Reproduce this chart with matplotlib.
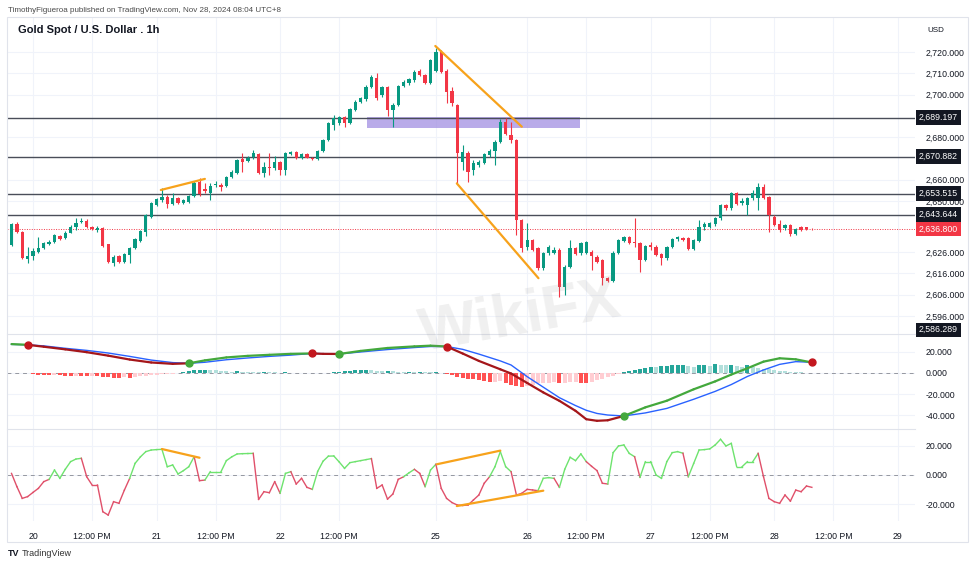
import matplotlib.pyplot as plt
import numpy as np
from matplotlib.transforms import blended_transform_factory

# ---- price candles (1h bars, Nov 19 20:00 -> Nov 28 08:00, UTC+8) ----
opens = [2629.4, 2639.3, 2635.4, 2622.7, 2624.2, 2626.3, 2628.1, 2629.9, 2631.0, 2633.8,
         2632.5, 2635.2, 2637.7, 2640.2, 2640.8, 2638.0, 2636.4, 2637.2, 2629.7, 2621.1,
         2624.2, 2621.6, 2624.7, 2627.8, 2631.4, 2635.7, 2642.7, 2648.2, 2650.5, 2652.1,
         2648.6, 2651.3, 2649.3, 2649.7, 2652.4, 2658.8, 2655.5, 2653.7, 2657.4, 2657.6,
         2657.3, 2661.2, 2663.3, 2669.6, 2668.8, 2670.6, 2672.0, 2663.0, 2666.2, 2665.4,
         2668.5, 2664.6, 2672.0, 2672.9, 2670.1, 2672.0, 2670.4, 2669.6, 2673.7, 2678.7,
         2685.7, 2686.5, 2689.3, 2686.8, 2692.8, 2696.7, 2697.8, 2703.7, 2707.6, 2699.8,
         2703.4, 2692.8, 2695.1, 2704.0, 2705.3, 2706.9, 2711.2, 2709.2, 2705.6, 2711.2,
         2720.2, 2711.2, 2701.7, 2695.1, 2668.5, 2672.7, 2664.6, 2666.9, 2668.0, 2671.6,
         2673.7, 2677.9, 2687.3, 2681.0, 2678.7, 2641.1, 2628.6, 2631.7, 2627.8, 2618.4,
         2625.5, 2625.8, 2627.1, 2609.8, 2619.2, 2627.8, 2625.5, 2625.8, 2626.3, 2623.9,
         2622.4, 2613.7, 2612.6, 2625.8, 2631.4, 2633.0, 2630.9, 2630.2, 2622.4, 2629.4,
         2628.6, 2625.2, 2623.1, 2628.3, 2632.1, 2632.7, 2632.5, 2627.4, 2631.4, 2637.7,
         2638.0, 2639.1, 2641.9, 2648.2, 2646.6, 2653.6, 2649.0, 2648.2, 2651.3, 2651.3,
         2656.8, 2651.8, 2642.7, 2639.2, 2637.2, 2638.8, 2634.6, 2637.7, 2637.6, 2637.0]
highs = [2639.6, 2640.0, 2635.8, 2628.6, 2627.8, 2633.3, 2630.8, 2631.6, 2634.6, 2634.3,
         2635.8, 2638.6, 2641.9, 2641.9, 2641.5, 2638.4, 2638.3, 2637.8, 2630.0, 2624.7,
         2624.7, 2625.7, 2628.6, 2632.6, 2636.6, 2644.1, 2649.6, 2651.5, 2656.0, 2652.7,
         2654.0, 2651.9, 2651.0, 2653.0, 2659.2, 2660.7, 2658.3, 2658.3, 2659.4, 2658.3,
         2662.0, 2664.4, 2669.9, 2672.4, 2671.0, 2674.0, 2672.5, 2668.5, 2672.4, 2671.2,
         2669.0, 2673.2, 2673.5, 2673.4, 2672.6, 2672.5, 2670.9, 2674.2, 2679.3, 2687.3,
         2690.4, 2690.0, 2690.0, 2693.8, 2697.5, 2699.0, 2704.3, 2709.2, 2710.3, 2704.0,
         2704.0, 2695.9, 2704.6, 2706.9, 2707.8, 2711.5, 2711.8, 2709.8, 2716.9, 2722.0,
         2721.0, 2711.8, 2703.7, 2695.6, 2676.3, 2673.3, 2669.3, 2669.2, 2672.7, 2674.3,
         2678.5, 2688.5, 2688.9, 2687.3, 2679.3, 2641.4, 2639.6, 2632.3, 2628.4, 2626.1,
         2629.2, 2628.4, 2627.8, 2619.8, 2631.7, 2628.4, 2630.8, 2631.2, 2626.9, 2624.5,
         2623.0, 2614.3, 2626.4, 2632.3, 2633.6, 2633.6, 2641.9, 2630.8, 2629.5, 2630.9,
         2629.2, 2625.8, 2628.9, 2632.7, 2633.6, 2633.3, 2633.1, 2632.3, 2641.1, 2640.2,
         2640.4, 2642.5, 2648.8, 2648.8, 2654.2, 2654.2, 2651.3, 2651.9, 2655.2, 2658.7,
         2657.9, 2652.4, 2643.3, 2641.1, 2639.4, 2639.4, 2637.5, 2638.3, 2637.8, 2637.3]
lows = [2628.9, 2635.0, 2622.7, 2621.1, 2622.3, 2625.8, 2627.5, 2629.5, 2630.5, 2631.5,
        2632.0, 2634.8, 2636.4, 2639.6, 2637.2, 2636.2, 2635.7, 2628.3, 2620.8, 2619.3,
        2621.0, 2621.0, 2621.1, 2627.3, 2630.9, 2633.5, 2642.0, 2647.6, 2649.7, 2646.6,
        2648.2, 2648.4, 2648.8, 2649.2, 2651.9, 2652.4, 2653.7, 2650.5, 2656.8, 2654.9,
        2656.8, 2660.7, 2662.8, 2663.8, 2668.3, 2669.6, 2662.8, 2661.5, 2662.3, 2664.6,
        2662.3, 2662.3, 2671.5, 2669.6, 2669.6, 2670.0, 2669.2, 2669.2, 2673.2, 2678.2,
        2683.4, 2685.7, 2684.9, 2686.2, 2692.2, 2696.0, 2697.2, 2703.0, 2697.5, 2699.0,
        2690.0, 2684.9, 2694.4, 2703.4, 2704.6, 2706.1, 2708.6, 2705.0, 2705.0, 2710.5,
        2710.0, 2695.9, 2694.6, 2658.3, 2664.6, 2659.1, 2662.3, 2666.2, 2667.4, 2670.9,
        2667.0, 2677.3, 2680.9, 2677.1, 2634.1, 2626.3, 2627.1, 2626.5, 2617.7, 2617.7,
        2624.9, 2625.2, 2605.1, 2606.0, 2618.4, 2624.6, 2624.9, 2625.2, 2617.7, 2620.9,
        2610.6, 2611.9, 2612.0, 2625.2, 2630.8, 2629.9, 2628.6, 2616.9, 2621.8, 2627.0,
        2624.2, 2620.0, 2622.5, 2627.8, 2631.4, 2631.3, 2626.8, 2626.8, 2630.8, 2636.2,
        2637.4, 2638.5, 2641.3, 2646.0, 2646.0, 2648.0, 2648.2, 2643.5, 2650.5, 2645.8,
        2650.8, 2635.7, 2638.2, 2635.7, 2636.6, 2633.7, 2634.0, 2635.8, 2636.5, 2636.5]
closes = [2639.1, 2635.5, 2623.1, 2624.2, 2626.6, 2628.1, 2630.2, 2631.0, 2634.1, 2632.0,
          2635.2, 2638.0, 2639.9, 2640.8, 2637.7, 2636.7, 2637.2, 2628.9, 2621.2, 2623.9,
          2621.6, 2625.2, 2628.1, 2632.0, 2636.1, 2643.5, 2649.0, 2650.8, 2652.1, 2648.5,
          2651.3, 2649.0, 2650.5, 2652.4, 2658.7, 2653.3, 2654.9, 2657.1, 2658.0, 2656.8,
          2661.5, 2663.8, 2669.3, 2668.5, 2670.4, 2672.4, 2663.3, 2666.2, 2665.4, 2668.5,
          2664.6, 2672.4, 2672.9, 2670.1, 2672.1, 2670.4, 2669.6, 2673.7, 2678.7, 2686.5,
          2688.9, 2689.3, 2686.8, 2693.1, 2696.7, 2698.2, 2703.7, 2708.1, 2698.2, 2703.4,
          2692.8, 2695.1, 2704.0, 2706.1, 2707.2, 2710.8, 2709.2, 2705.6, 2716.2, 2720.2,
          2710.8, 2701.4, 2695.9, 2672.4, 2673.2, 2663.8, 2667.7, 2668.5, 2672.1, 2673.7,
          2677.9, 2687.3, 2681.5, 2678.7, 2641.1, 2627.8, 2631.7, 2627.1, 2618.4, 2625.5,
          2628.6, 2627.1, 2609.8, 2619.2, 2627.8, 2625.2, 2630.2, 2630.6, 2624.2, 2621.6,
          2613.7, 2612.6, 2625.8, 2631.7, 2633.0, 2630.5, 2630.2, 2622.4, 2628.9, 2628.3,
          2624.7, 2623.1, 2628.3, 2632.1, 2633.0, 2631.8, 2627.4, 2631.7, 2637.7, 2639.2,
          2639.6, 2641.9, 2648.2, 2646.6, 2653.6, 2648.5, 2650.2, 2651.3, 2653.6, 2656.8,
          2651.3, 2643.5, 2638.8, 2636.4, 2638.8, 2634.6, 2636.9, 2636.4, 2637.0, 2636.8]

levels = [2689.197, 2670.882, 2653.515, 2643.644]
last_price = 2636.8
low_label = 2586.289
price_ticks = [2720, 2710, 2700, 2680, 2660, 2650, 2626, 2616, 2606, 2596]

# drawings (bar index, price)
zone_x = [66.1, 105.9]
zone_y = [2684.4, 2689.3]
trend_lines = [[27.8, 2655.2, 36.0, 2660.4],
               [78.9, 2722.8, 95.0, 2684.9],
               [82.9, 2658.3, 98.1, 2613.8]]

# time axis
time_ticks = [4, 15, 27, 38, 50, 61, 79, 96, 107, 119, 130, 142, 153, 165]
time_labels = ['20', '12:00 PM', '21', '12:00 PM', '22', '12:00 PM', '25', '26',
               '12:00 PM', '27', '12:00 PM', '28', '12:00 PM', '29']

# ---- MACD pane ----
macd_idx = [0, 3, 6, 10, 14, 18, 22, 26, 30, 33, 36, 40, 44, 48, 52, 56, 58, 61, 65, 70,
            75, 78, 81, 84, 87, 91, 93, 96, 99, 102, 105, 107, 109, 111, 114, 118, 122,
            127, 131, 134, 137, 140, 143, 146, 149]
macd_line = [27.5, 26.8, 25.0, 22.5, 19.8, 16.5, 12.8, 10.0, 8.7, 9.2, 12.0, 14.8, 16.3,
             17.3, 18.2, 18.6, 18.2, 18.1, 21.0, 23.8, 25.3, 26.0, 25.2, 18.5, 11.5, 3.5,
             -0.5, -9.5, -18.5, -26.5, -36.0, -44.0, -45.5, -45.0, -40.9, -32.7, -26.4,
             -15.5, -8.0, -1.5, 4.5, 10.8, 14.0, 13.0, 10.0]
signal_line = [27.2, 26.8, 25.8, 23.5, 21.5, 19.0, 15.8, 12.3, 9.9, 9.2, 10.2, 12.6, 14.3,
               15.8, 17.0, 18.6, 18.4, 18.1, 20.0, 22.3, 24.2, 25.2, 25.2, 22.5, 18.0, 11.5,
               7.6, -3.5, -13.5, -23.5, -31.0, -35.5, -38.5, -40.0, -40.9, -38.0, -33.7,
               -25.0, -17.5, -11.0, -3.3, 2.9, 8.2, 10.8, 10.2]
cross_idx = [3, 33, 56, 61, 81, 114, 149]
cross_up = [False, True, False, True, False, True, False]
hist = [0.3, 0.2, 0.1, -0.3, -1.0, -1.5, -1.8, -2.0, -1.8, -2.0,
        -2.5, -2.7, -2.5, -2.8, -3.0, -2.8, -3.0, -3.5, -4.0, -4.3,
        -4.5, -4.2, -4.5, -4.0, -3.0, -2.5, -2.0, -1.5, -1.0, -0.8,
        -0.5, -0.3, 1.0, 2.0, 2.5, 3.0, 3.2, 3.0, 2.5, 1.8,
        1.5, 1.2, 1.5, 1.2, 1.0, 0.8, 0.6, 0.8, 0.6, 0.5,
        0.4, 0.5, 0.3, 0.2, 0.3, 0.1, -0.2, -0.3, -0.4, -0.3,
        0.5, 1.0, 1.5, 2.0, 2.5, 2.8, 3.0, 2.5, 2.0, 1.5,
        1.8, 1.5, 1.2, 1.0, 1.0, 0.8, 0.8, 0.6, 0.5, 0.5,
        0.3, -0.5, -2.0, -3.5, -4.5, -5.5, -6.0, -7.0, -8.0, -8.5,
        -8.3, -7.8, -9.5, -11.0, -12.5, -13.0, -12.0, -11.0, -10.0, -9.8,
        -9.5, -9.0, -9.8, -9.3, -9.0, -8.8, -9.8, -10.0, -8.5, -7.0,
        -5.5, -4.0, -2.5, -1.0, 1.0, 2.0, 3.0, 4.0, 5.0, 6.0,
        5.5, 6.5, 7.0, 7.5, 7.6, 7.8, 6.5, 6.0, 7.5, 8.0,
        7.0, 8.2, 8.0, 7.5, 8.0, 7.0, 6.0, 7.5, 6.0, 5.0,
        4.0, 3.5, 2.8, 2.2, 1.6, 1.2, 0.8, 0.5, 0.3, -0.3]
macd_ticks = [20, 0, -20, -40]

# ---- oscillator pane ----
osc = [1.1, -8.0, -16.1, -14.9, -12.0, -9.2, -4.6, -3.0, 3.4, -2.3,
       3.9, 9.2, 11.0, 11.5, -1.2, -6.9, -6.9, -25.3, -27.6, -18.4,
       -19.5, -10.5, -2.3, 8.0, 12.5, 16.1, 17.2, 17.5, 17.7, 5.7,
       6.9, 0.7, 3.0, 5.7, 12.6, -3.9, -3.5, 2.3, 2.3, 2.3,
       9.9, 12.5, 14.5, 14.7, 14.8, 14.9, -16.8, -11.5, -12.2, -4.6,
       -12.6, 1.1, 2.3, -6.2, -2.3, -8.5, -9.9, 2.5, 9.5, 13.0,
       13.1, 9.0, 4.6, 8.5, 9.2, 9.9, 10.6, 11.3, -9.2, -6.9,
       -16.6, -13.1, -3.0, -1.2, 1.5, 3.9, 1.1, -8.0, 3.4, 7.4,
       -9.2, -16.1, -19.0, -20.7, -21.0, -20.7, -17.2, -13.8, -5.7, -1.2,
       5.7, 16.1, 5.7, 2.3, -13.8, -12.6, -9.9, -10.3, -10.8, -2.3,
       -1.8, -2.3, -8.5, 4.0, 12.2, 9.9, 14.5, 9.2, 6.0, 3.0,
       -5.7, -6.2, 15.4, 20.0, 20.7, 14.9, 12.6, -1.6, 9.2, 9.2,
       0.0, -2.3, 9.2, 15.4, 16.1, 15.0, -1.2, 8.0, 17.2, 17.5,
       18.0, 20.7, 24.6, 20.0, 21.8, 5.7, 5.7, 9.2, 9.2, 14.9,
       -1.2, -16.1, -18.4, -19.5, -13.8, -18.0, -10.4, -11.5, -7.6, -8.5]
# alternating green / red run lengths of the oscillator line, starting green
osc_runs = [1, 7, 6, 9, 12, 2, 9, 5, 2, 4, 11, 6, 2, 2, 2, 10, 4, 5, 3, 1, 5, 4, 5, 1,
            8, 1, 13, 10]
osc_ticks = [20, 0, -20]
osc_lines = [[28.0, 17.9, 35.0, 11.9],
             [79.2, 7.4, 91.0, 16.8],
             [82.9, -21.4, 99.0, -10.8]]

osc_col = ''.join(('g' if k % 2 == 0 else 'r') * r for k, r in enumerate(osc_runs))

# ---- layout helpers (pixel boxes) ----
W, H = 975, 566
fig = plt.figure(figsize=(W / 100, H / 100), dpi=100)
fig.patch.set_facecolor('white')
plt.rcParams['font.family'] = ['Liberation Sans', 'DejaVu Sans']

X0, X1 = 7, 915


def pane(top, bottom):
    return fig.add_axes([X0 / W, 1 - bottom / H, (X1 - X0) / W, (bottom - top) / H])


ax = pane(17, 334)
axm = pane(334, 429)
axr = pane(429, 521)

n = len(closes)
idx = np.arange(n)
xlim = (-0.84, 168.2)
UP, DN = '#089981', '#f23645'
TXT = '#131722'
GRID = '#f0f3fa'

for a in (ax, axm, axr):
    a.set_xlim(*xlim)
    a.set_facecolor('none')
    for s in a.spines.values():
        s.set_visible(False)
    a.yaxis.tick_right()
    a.tick_params(axis='y', length=0, pad=7.5, labelsize=6.3, labelcolor=TXT)
    a.tick_params(axis='x', length=0)
    a.set_xticks(time_ticks)
    a.grid(True, color=GRID, lw=0.8, zorder=0)
    a.set_axisbelow(True)

ax.set_xticklabels([])
axm.set_xticklabels([])
axr.set_xticklabels(time_labels, fontsize=6.3, color=TXT)
axr.tick_params(axis='x', pad=8)

# ---- main price pane ----
ax.set_ylim(2587.6, 2736.4)
ax.set_yticks(price_ticks)
ax.set_yticklabels([f'{t:,.3f}' for t in price_ticks])

o = np.array(opens)
c = np.array(closes)
col = np.where(c >= o, UP, DN)
ax.vlines(idx, lows, highs, colors=col, lw=0.8, zorder=3)
body = np.maximum(np.abs(c - o), 0.3)
ax.bar(idx, body, bottom=np.minimum(o, c), width=0.62, color=col, zorder=4, lw=0)

ax.fill_between(zone_x, zone_y[0], zone_y[1], color='#9c88e0', alpha=0.7, lw=0, zorder=2)

for lv in levels:
    ax.axhline(lv, color='#4a4e59', lw=1.0, zorder=2)
ax.axhline(last_price, color=DN, lw=0.7, ls=(0, (1, 1.5)), zorder=2)

for x1, y1, x2, y2 in trend_lines:
    ax.plot([x1, x2], [y1, y2], color='#f7a21b', lw=1.6, zorder=6, solid_capstyle='round')

tr = blended_transform_factory(ax.transAxes, ax.transData)
xlab = 1 + 4 / (X1 - X0)
box_kw = dict(fontsize=6.3, color='white', va='center', ha='left', transform=tr,
              clip_on=False, zorder=10)
for lv in levels:
    ax.text(xlab, lv, f'{lv:,.3f}', bbox=dict(boxstyle='square,pad=0.3', fc='#131722', ec='none'),
            **box_kw)
ax.text(xlab, last_price, f'{last_price:,.3f}',
        bbox=dict(boxstyle='square,pad=0.3', fc=DN, ec='none'), **box_kw)
ax.text(xlab, max(low_label, ax.get_ylim()[0] + 2.0), f'{low_label:,.3f}',
        bbox=dict(boxstyle='square,pad=0.3', fc='#131722', ec='none'), **box_kw)

# ---- MACD pane ----
axm.set_ylim(-53.3, 37.1)
axm.set_yticks(macd_ticks)
axm.set_yticklabels([f'{t:,.3f}' for t in macd_ticks])
axm.axhline(0, color='#9598a1', lw=0.7, ls=(0, (4, 4)), zorder=1)

hcol = []
for i, v in enumerate(hist):
    prev = hist[i - 1] if i > 0 else v
    if v >= 0:
        hcol.append('#26a69a' if v >= prev else '#b2dfdb')
    else:
        hcol.append('#ffcdd2' if v > prev else '#ff5252')
axm.bar(idx, hist, width=0.75, color=hcol, lw=0, zorder=2)

axm.plot(macd_idx, signal_line, color='#2962ff', lw=1.0, zorder=3)
for k in range(len(macd_idx) - 1):
    above = (macd_line[k] + macd_line[k + 1]) >= (signal_line[k] + signal_line[k + 1])
    axm.plot(macd_idx[k:k + 2], macd_line[k:k + 2], color='#43a83c' if above else '#a4161a',
             lw=1.6, zorder=4, solid_capstyle='round')
mv = dict(zip(macd_idx, macd_line))
for ci, up in zip(cross_idx, cross_up):
    axm.plot(ci, mv[ci], 'o', ms=5, color='#43a83c' if up else '#c3171e', zorder=5,
             clip_on=False)

# ---- oscillator pane ----
axr.set_ylim(-31.7, 31.7)
axr.set_yticks(osc_ticks)
axr.set_yticklabels([f'{t:,.3f}' for t in osc_ticks])
axr.axhline(0, color='#9598a1', lw=0.7, ls=(0, (4, 4)), zorder=1)
for k in range(n - 1):
    cc = '#6ee36e' if osc_col[k + 1] == 'g' else '#e0506a'
    axr.plot([k, k + 1], osc[k:k + 2], color=cc, lw=1.0, zorder=3)
for x1, y1, x2, y2 in osc_lines:
    axr.plot([x1, x2], [y1, y2], color='#f7a21b', lw=1.6, zorder=4, solid_capstyle='round')

# separators between panes
for a in (axm, axr):
    a.axhline(a.get_ylim()[1], color='#e0e3eb', lw=0.8, clip_on=False)

# ---- frame and texts ----
fig.add_artist(plt.Rectangle((X0 / W, 1 - 542 / H), (968 - X0) / W, (542 - 17) / H,
                             transform=fig.transFigure, fill=False, ec='#e0e3eb', lw=0.8))


def ftext(px, py, s, **kw):
    fig.text(px / W, 1 - py / H, s, va='center', **kw)


ftext(8, 10, 'TimothyFigueroa published on TradingView.com, Nov 28, 2024 08:04 UTC+8',
      fontsize=5.8, color='#4a4a4a')
ftext(18, 30, 'Gold Spot / U.S. Dollar . 1h', fontsize=8, weight='bold', color=TXT)
ftext(927, 30, 'USD', fontsize=5.8, color=TXT)
ftext(8, 553, 'TV', fontsize=6.5, weight='bold', color=TXT)
ftext(22, 553, 'TradingView', fontsize=6.5, color='#333333')
fig.text(520 / W, 1 - 318 / H, 'WikiFX', fontsize=44, weight='bold', color='#8a8a8a',
         alpha=0.13, rotation=10, ha='center', va='center')

fig.savefig('out.png', dpi=100)
